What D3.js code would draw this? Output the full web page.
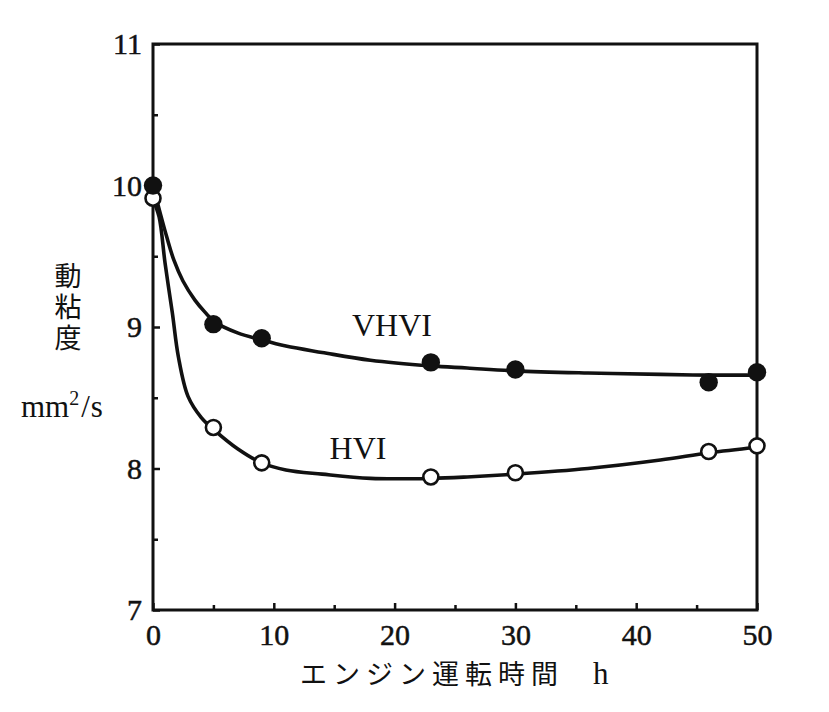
<!DOCTYPE html>
<html>
<head>
<meta charset="utf-8">
<script src="https://cdn.jsdelivr.net/npm/d3@7/dist/d3.min.js"></script>
<style>
  html, body { margin: 0; padding: 0; background: #ffffff; }
  svg { display: block; }
</style>
</head>
<body>
<script>
// ---- data ----
const hours = [0, 5, 9, 23, 30, 46, 50];
const vhviValues = [10.0, 9.02, 8.92, 8.75, 8.70, 8.61, 8.68];
const hviValues  = [9.91, 8.29, 8.04, 7.94, 7.97, 8.12, 8.16];

// hand-drawn fitted curves
const vhviCurveX = [0, 0.58, 1.16, 1.74, 2.48, 3.47, 4.3, 5.12, 7, 9, 11, 14, 18, 23, 26, 30, 36, 42, 46, 50];
const vhviCurveY = [10.0, 9.81, 9.63, 9.47, 9.325, 9.19, 9.105, 9.035, 8.958, 8.908, 8.865, 8.82, 8.765, 8.725, 8.71, 8.69, 8.675, 8.665, 8.66, 8.66];
const hviCurveX = [0, 0.5, 1.0, 1.6, 2.1, 2.9, 4.0, 5.1, 7, 9, 11, 14, 18, 23, 26, 30, 36, 42, 46, 50];
const hviCurveY = [9.9, 9.78, 9.45, 9.10, 8.79, 8.51, 8.36, 8.27, 8.14, 8.04, 7.99, 7.96, 7.93, 7.93, 7.94, 7.96, 8.0, 8.06, 8.11, 8.15];

const xTicks = [0, 10, 20, 30, 40, 50];
const xMinorTicks = [5, 15, 25, 35, 45];
const yTicks = [7, 8, 9, 10, 11];
const yMinorTicks = [7.5, 8.5, 9.5, 10.5];

const xTitle = "エンジン運転時間";
const xUnit = "h";
const yTitle = "動粘度";
const seriesLabels = ["VHVI", "HVI"];

// ---- drawing ----
(function () {
const W = 829, H = 712;
const svg = d3.select("body").append("svg").attr("width", W).attr("height", H);
svg.append("rect").attr("width", W).attr("height", H).attr("fill", "#ffffff");

const mL = 153, mR = 757, mT = 44, mB = 610;
const x = d3.scaleLinear().domain([0, 50]).range([mL, mR]);
const y = d3.scaleLinear().domain([7, 11]).range([mB, mT]);

const serif = "'Liberation Serif', 'DejaVu Serif', serif";
const cjk = "'Noto Sans CJK JP', 'Noto Sans CJK SC', sans-serif";
const ink = "#111";

// frame
svg.append("rect")
  .attr("x", mL).attr("y", mT)
  .attr("width", mR - mL).attr("height", mB - mT)
  .attr("fill", "none").attr("stroke", ink).attr("stroke-width", 3);

// bottom axis (ticks pointing inward)
const xAxis = d3.axisBottom(x).tickValues(xTicks).tickSize(-7).tickPadding(14)
  .tickFormat(d3.format("d"));
const gx = svg.append("g").attr("transform", `translate(0,${mB})`).call(xAxis);
gx.select(".domain").remove();
gx.selectAll(".tick line").attr("stroke", ink).attr("stroke-width", 2.5);
gx.selectAll(".tick text").attr("font-family", serif).attr("font-size", 30).attr("fill", ink)
  .attr("stroke", ink).attr("stroke-width", 0.5)
  .attr("dy", "0.71em").attr("y", 14);
const gxm = svg.append("g").attr("transform", `translate(0,${mB})`)
  .call(d3.axisBottom(x).tickValues(xMinorTicks).tickSize(-5).tickFormat(""));
gxm.select(".domain").remove();
gxm.selectAll(".tick line").attr("stroke", ink).attr("stroke-width", 2.5);

// left axis
const yAxis = d3.axisLeft(y).tickValues(yTicks).tickSize(-7).tickPadding(12)
  .tickFormat(d3.format("d"));
const gy = svg.append("g").attr("transform", `translate(${mL},0)`).call(yAxis);
gy.select(".domain").remove();
gy.selectAll(".tick line").attr("stroke", ink).attr("stroke-width", 2.5);
gy.selectAll(".tick text").attr("font-family", serif).attr("font-size", 30).attr("fill", ink)
  .attr("stroke", ink).attr("stroke-width", 0.5)
  .attr("x", -11);
const gym = svg.append("g").attr("transform", `translate(${mL},0)`)
  .call(d3.axisLeft(y).tickValues(yMinorTicks).tickSize(-5).tickFormat(""));
gym.select(".domain").remove();
gym.selectAll(".tick line").attr("stroke", ink).attr("stroke-width", 2.5);

// curves
const line = d3.line().x(d => x(d[0])).y(d => y(d[1])).curve(d3.curveCatmullRom.alpha(0.5));
svg.append("path").datum(d3.zip(vhviCurveX, vhviCurveY)).attr("d", line)
  .attr("fill", "none").attr("stroke", ink).attr("stroke-width", 3.6).attr("stroke-linecap", "round");
svg.append("path").datum(d3.zip(hviCurveX, hviCurveY)).attr("d", line)
  .attr("fill", "none").attr("stroke", ink).attr("stroke-width", 3.6).attr("stroke-linecap", "round");

// markers
svg.append("g").selectAll("circle").data(d3.zip(hours, hviValues)).join("circle")
  .attr("cx", d => x(d[0])).attr("cy", d => y(d[1])).attr("r", 7.5)
  .attr("fill", "#fff").attr("stroke", ink).attr("stroke-width", 2.6);
svg.append("g").selectAll("circle").data(d3.zip(hours, vhviValues)).join("circle")
  .attr("cx", d => x(d[0])).attr("cy", d => y(d[1])).attr("r", 9.2)
  .attr("fill", ink);

// series labels
svg.append("text").attr("x", 392).attr("y", 336).attr("text-anchor", "middle")
  .attr("font-family", serif).attr("font-size", 32).attr("fill", ink).text(seriesLabels[0]);
svg.append("text").attr("x", 358).attr("y", 459).attr("text-anchor", "middle")
  .attr("font-family", serif).attr("font-size", 32).attr("fill", ink).text(seriesLabels[1]);

// x title
const xt = svg.append("text").attr("x", 300).attr("y", 684)
  .attr("font-size", 27).attr("fill", ink);
xt.append("tspan").attr("font-family", cjk).attr("letter-spacing", 6).text(xTitle);
xt.append("tspan").attr("x", 593).attr("font-family", serif).attr("font-size", 31).text(xUnit);

// y title (vertical)
svg.append("text").attr("x", 68).attr("y", 262)
  .attr("writing-mode", "vertical-rl").attr("glyph-orientation-vertical", 0)
  .attr("letter-spacing", 4)
  .attr("font-family", cjk).attr("font-size", 27).attr("fill", ink).text(yTitle);

const yu = svg.append("text").attr("x", 21).attr("y", 417)
  .attr("font-family", serif).attr("font-size", 31).attr("fill", ink);
yu.append("tspan").text("mm");
yu.append("tspan").attr("font-size", 20).attr("dy", -12).text("2");
yu.append("tspan").attr("dy", 12).attr("dx", 2).text("/");
yu.append("tspan").attr("dx", 1).text("s");
})();
</script>
</body>
</html>
